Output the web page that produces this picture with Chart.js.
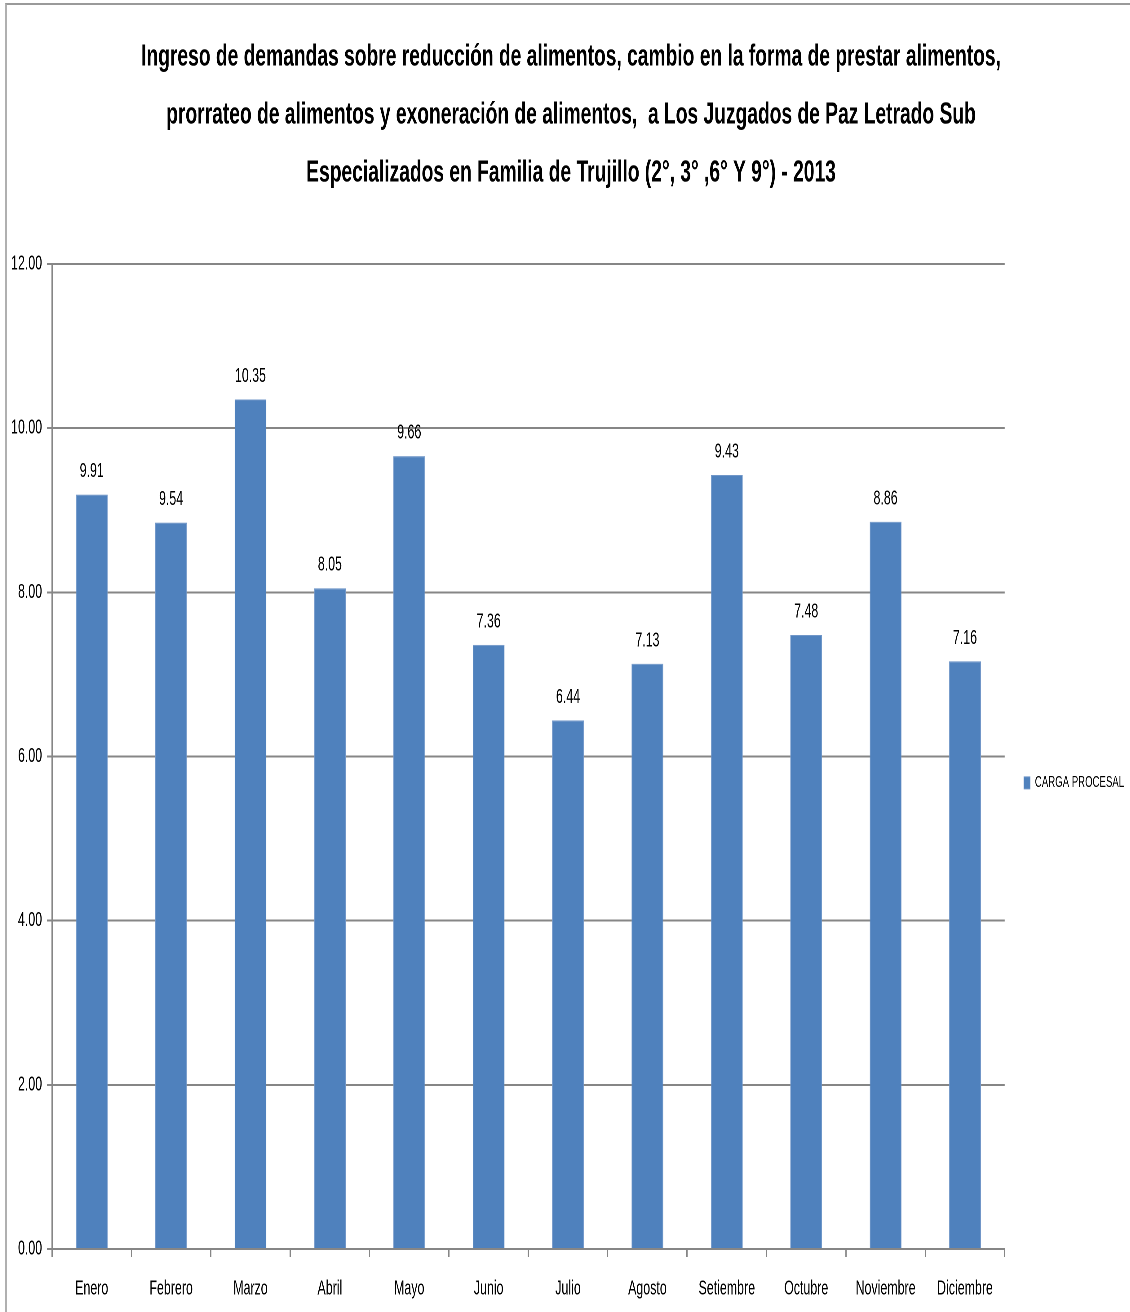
<!DOCTYPE html>
<html>
<head>
<meta charset="utf-8">
<script src="https://cdn.jsdelivr.net/npm/chart.js@4/dist/chart.umd.min.js"></script>
<style>
  html, body { margin: 0; padding: 0; background: #ffffff; width: 1130px; height: 1312px; overflow: hidden; }
  #frame { position: absolute; left: 5px; top: 3px; width: 1200px; height: 1400px;
           border-top: 2px solid #9a9a9a; border-left: 2px solid #b0b0b0; box-sizing: border-box; }
  #wrap { position: absolute; left: 0; top: 0; width: 1823px; height: 1312px;
          transform: scaleX(0.62); transform-origin: 0 0; }
</style>
</head>
<body>
<div id="frame"></div>
<div id="wrap"><canvas id="c"></canvas></div>
<script>
const titleLines = [
  'Ingreso de demandas sobre reducción de alimentos, cambio en la forma de prestar alimentos,',
  'prorrateo de alimentos y exoneración de alimentos,  a Los Juzgados de Paz Letrado Sub',
  'Especializados en Familia de Trujillo (2°, 3° ,6° Y 9°) - 2013'
];
const months = ['Enero', 'Febrero', 'Marzo', 'Abril', 'Mayo', 'Junio', 'Julio', 'Agosto',
                'Setiembre', 'Octubre', 'Noviembre', 'Diciembre'];
const seriesName = 'CARGA PROCESAL';
const cargaProcesal = [9.19, 8.85, 10.35, 8.05, 9.66, 7.36, 6.44, 7.13, 9.43, 7.48, 8.86, 7.16];
const valueLabels = ['9.91', '9.54', '10.35', '8.05', '9.66', '7.36', '6.44', '7.13', '9.43', '7.48', '8.86', '7.16'];
const yTicks = [0, 2, 4, 6, 8, 10, 12];

const FONT = "'Liberation Sans', Arial, sans-serif";
const GRID = '#868686';

const barLabelPlugin = {
  id: 'barLabels',
  afterDatasetsDraw(chart) {
    const ctx = chart.ctx;
    const meta = chart.getDatasetMeta(0);
    ctx.save();
    ctx.font = '20px ' + FONT;
    ctx.fillStyle = '#000000';
    ctx.textAlign = 'center';
    ctx.textBaseline = 'middle';
    meta.data.forEach((bar, i) => {
      ctx.fillText(valueLabels[i], bar.x, bar.y - 23);
    });
    ctx.restore();
  }
};

new Chart(document.getElementById('c'), {
  type: 'bar',
  data: {
    labels: months,
    datasets: [{
      label: seriesName,
      data: cargaProcesal,
      backgroundColor: '#4F81BD',
      borderColor: '#7096C8',
      borderWidth: 1,
      barPercentage: 0.4,
      categoryPercentage: 1.0
    }]
  },
  options: {
    responsive: true,
    maintainAspectRatio: false,
    animation: false,
    devicePixelRatio: 2,
    layout: { padding: { left: 19, right: 0, top: 0, bottom: 11 } },
    plugins: {
      title: {
        display: true,
        text: titleLines,
        color: '#000000',
        font: { family: FONT, size: 31, weight: 'bold', lineHeight: 1.871 },
        padding: { top: 28, bottom: 62 }
      },
      legend: {
        display: true,
        position: 'right',
        fullSize: false,
        title: { display: true, text: ' ', padding: 15, font: { size: 19 } },
        labels: {
          boxWidth: 10,
          boxHeight: 12,
          padding: 31,
          color: '#000000',
          font: { family: FONT, size: 15.5 }
        }
      },
      tooltip: { enabled: false }
    },
    scales: {
      x: {
        offset: true,
        afterFit(scale) { scale.height = 52; },
        grid: { display: true, drawOnChartArea: false, offset: true, tickLength: 8, color: GRID, lineWidth: 2 },
        border: { display: true, color: GRID, width: 2 },
        ticks: { color: '#000000', padding: 20, font: { family: FONT, size: 20 } }
      },
      y: {
        min: 0,
        max: 12,
        afterFit(scale) { scale.width = 64.9; },
        afterBuildTicks(scale) { scale.ticks = yTicks.map(v => ({ value: v })); },
        grid: { color: GRID, lineWidth: 2, tickLength: 8 },
        border: { display: true, color: GRID, width: 2 },
        ticks: {
          color: '#000000',
          padding: 8,
          font: { family: FONT, size: 20 },
          callback: (v) => Number(v).toFixed(2)
        }
      }
    }
  },
  plugins: [barLabelPlugin]
});
</script>
</body>
</html>
